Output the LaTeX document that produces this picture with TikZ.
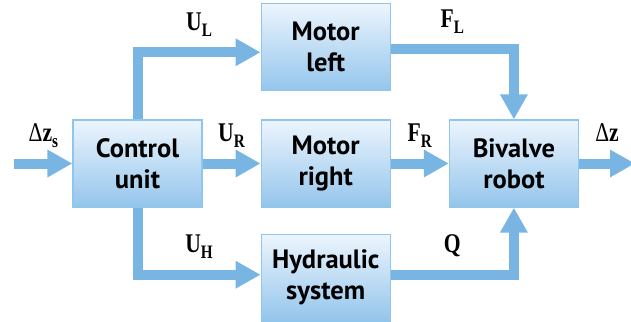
\documentclass[tikz,border=0pt]{standalone}
\usepackage{fontspec}
\setsansfont{PT Sans}
\newfontfamily\lblfont[FakeStretch=0.8]{Liberation Serif}
\usetikzlibrary{arrows.meta, positioning}
\definecolor{flow}{RGB}{120,181,227}
\definecolor{boxline}{RGB}{145,198,236}
\definecolor{boxtop}{RGB}{236,245,253}
\definecolor{boxbot}{RGB}{148,197,236}
\newcommand{\lblsub}[1]{\raisebox{-6pt}{\lblfont\fontsize{19}{19}\selectfont\textbf{#1}}}
\tikzset{
  block/.style={rectangle, draw=boxline, line width=1.2pt, top color=boxtop, bottom color=boxbot, minimum width=129pt, minimum height=87pt, inner sep=0pt, font=\sffamily\bfseries\fontsize{26.5}{31}\selectfont, align=center},
  arrow/.style={-{Triangle[length=25pt,width=26pt]}, line width=10pt, color=flow},
  lbl/.style={font=\lblfont\bfseries\fontsize{27}{27}\selectfont, inner sep=0pt, text depth=7pt, text=black},
}

\begin{document}
\begin{tikzpicture}[x=1pt, y=1pt]
  \useasboundingbox (0,0) rectangle (631,-321);
  \node[block] (ctrl) at (137.5,-163.5) {Control\\unit};
  \node[block, right=58pt of ctrl] (motR) {Motor\\right};
  \node[block, above=28pt of motR] (motL) {Motor\\left};
  \node[block, below=26pt of motR] (hyd) {Hydraulic\\system};
  \node[block, right=58pt of motR] (robot) {Bivalve\\robot};
  \coordinate[left=58pt of ctrl] (in);
  \coordinate[right=56pt of robot] (out);

  \draw[arrow] (in) -- node[lbl, above=10pt] {{\mdseries Δ}z\lblsub{s}} (ctrl);
  \draw[arrow] (ctrl) -- node[lbl, above=10pt] {U\lblsub{R}} (motR);
  \draw[arrow] (motR) -- node[lbl, above=10pt] {F\lblsub{R}} (robot);
  \draw[arrow] (robot) -- node[lbl, above=10pt] {{\mdseries Δ}z} (out);
  \draw[arrow] (ctrl.north) |- node[lbl, pos=0.75, above=10pt] {U\lblsub{L}} ([yshift=-5pt]motL.west);
  \draw[arrow] ([yshift=-2pt]motL.east) -| node[lbl, pos=0.25, above=10pt] {F\lblsub{L}} (robot.north);
  \draw[arrow] (ctrl.south) |- node[lbl, pos=0.75, above=10pt] {U\lblsub{H}} ([yshift=3pt]hyd.west);
  \draw[arrow] ([yshift=3pt]hyd.east) -| node[lbl, pos=0.25, above=10pt] {Q} (robot.south);
\end{tikzpicture}
\end{document}
